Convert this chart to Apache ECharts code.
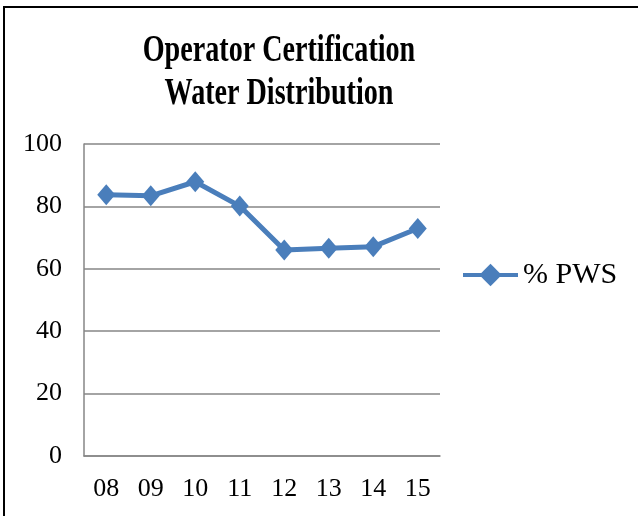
<!DOCTYPE html>
<html><head><meta charset="utf-8">
<script src="https://cdn.jsdelivr.net/npm/echarts@6/dist/echarts.min.js"></script>
<style>
html,body{margin:0;padding:0;background:#fff;}
#frame{position:absolute;left:3px;top:6px;width:640px;height:520px;border:2px solid #000;box-sizing:border-box;}
#c{position:absolute;left:0;top:0;width:638px;height:516px;}
</style></head><body>
<div id="frame"></div>
<div id="c"></div>
<script>
const categories = ['08','09','10','11','12','13','14','15'];
const pwsValues = [83.7, 83.4, 87.9, 80.1, 66.0, 66.6, 67.1, 72.9];
const yTicks = [0, 20, 40, 60, 80, 100];
const seriesName = '% PWS';
const titleLines = ['Operator Certification', 'Water Distribution'];

const chart = echarts.init(document.getElementById('c'), null, {renderer:'canvas'});
const serif = '"Liberation Serif", "Times New Roman", serif';
chart.setOption({
  animation:false,
  backgroundColor:'transparent',
  graphic: titleLines.map((t, i) => ({
    type:'text', x:279, y:51 + i*43.5, scaleX:0.74, scaleY:1,
    style:{text:t, fill:'#000', font:'bold 38px ' + serif, textAlign:'center', textVerticalAlign:'middle'}
  })),
  legend:{
    data:[seriesName], left:456, top:255, itemWidth:55, itemHeight:28, itemGap:0,
    lineStyle:{width:4},
    textStyle:{fontFamily:serif, fontSize:30, color:'#000', padding:[0,0,0,0]}
  },
  grid:{left:84, top:144, width:356, height:312, containLabel:false},
  xAxis:{
    type:'category', data:categories, boundaryGap:true,
    axisLine:{lineStyle:{color:'#868686', width:1.5}},
    axisTick:{show:false},
    axisLabel:{fontFamily:serif, fontSize:26, color:'#000', margin:20}
  },
  yAxis:{
    type:'value', min:yTicks[0], max:yTicks[yTicks.length-1], interval:20,
    axisLine:{show:true, lineStyle:{color:'#868686', width:1.5}},
    axisTick:{show:false},
    splitLine:{lineStyle:{color:'#868686', width:1.5}},
    axisLabel:{fontFamily:serif, fontSize:26, color:'#000', margin:22}
  },
  series:[{
    name:seriesName, type:'line', data:pwsValues,
    symbol:'diamond', symbolSize:[18,21],
    lineStyle:{color:'#4a7ebb', width:5},
    itemStyle:{color:'#4a7ebb'}
  }]
});
</script></body></html>
